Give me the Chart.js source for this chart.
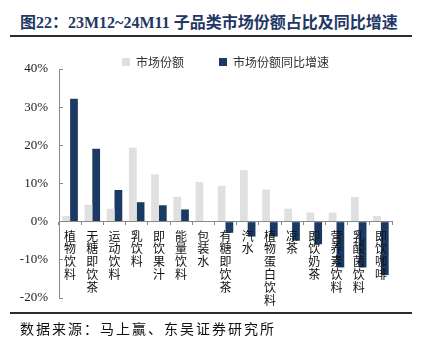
<!DOCTYPE html>
<html>
<head>
<meta charset="utf-8">
<script src="https://cdn.jsdelivr.net/npm/chart.js@4.4.1/dist/chart.umd.min.js"></script>
<style>
  html, body { margin: 0; padding: 0; background: #fff; }
  body { width: 422px; height: 354px; overflow: hidden; position: relative; }
  #title { position: absolute; left: 20px; top: 9px; font: bold 16px "Liberation Serif", "Noto Sans CJK SC"; color: #1f3864; white-space: nowrap; }
  #rule1 { position: absolute; left: 10px; top: 35px; width: 402px; height: 2px; background: #2b2b2b; }
  #rule2 { position: absolute; left: 10px; top: 312px; width: 402px; height: 2px; background: #2b2b2b; }
  #source { position: absolute; left: 20px; top: 318px; font: 14px "Noto Sans CJK SC"; letter-spacing: 2px; color: #111; white-space: nowrap; }
  #wrap { position: absolute; left: 0; top: 0; width: 422px; height: 354px; }
</style>
</head>
<body>
<div id="title">图22：23M12~24M11 子品类市场份额占比及同比增速</div>
<div id="rule1"></div>
<div id="wrap"><canvas id="chart"></canvas></div>
<div id="rule2"></div>
<div id="source">数据来源：马上赢、东吴证券研究所</div>
<script>
const categories = ["植物饮料", "无糖即饮茶", "运动饮料", "乳饮料", "即饮果汁", "能量饮料", "包装水",
  "有糖即饮茶", "汽水", "植物蛋白饮料", "凉茶", "即饮奶茶", "营养素饮料", "乳酸菌饮料", "即饮咖啡"];
const shareValues = [1.5, 4.4, 3.4, 19.4, 12.4, 6.5, 10.4, 9.4, 13.5, 8.4, 3.4, 2.4, 2.4, 6.5, 1.5];
const growthValues = [32.2, 19.1, 8.3, 5.1, 4.3, 3.2, 0, -2.9, -3.9, -3.9, -5.0, -5.9, -12.0, -12.0, -14.0];
const yTicks = [-20, -10, 0, 10, 20, 30, 40];

// legend sits close to the plot, so trim its reserved height
const legendHeight = {
  id: "legendHeight",
  beforeInit(chart) {
    const fit = chart.legend.fit;
    chart.legend.fit = function () {
      fit.call(this);
      this.height = 48;
    };
  }
};

const ctx = document.getElementById("chart").getContext("2d");
const chart = new Chart(ctx, {
  type: "bar",
  data: {
    labels: categories.map(c => c.split("")),
    datasets: [
      {
        label: "市场份额",
        data: shareValues,
        backgroundColor: "#e0e0e0",
        categoryPercentage: 0.7,
        barPercentage: 1.0,
      },
      {
        label: "市场份额同比增速",
        data: growthValues,
        backgroundColor: "#1a3a63",
        categoryPercentage: 0.7,
        barPercentage: 1.0,
      },
    ],
  },
  options: {
    responsive: true,
    maintainAspectRatio: false,
    animation: false,
    layout: { padding: { top: 21, left: 20, right: 30, bottom: 56 } },
    plugins: {
      legend: {
        fullSize: false,
        labels: {
          boxWidth: 8,
          boxHeight: 8,
          padding: 35,
          color: "#333",
          font: { family: "Noto Sans CJK SC", size: 12 },
        },
      },
      tooltip: { enabled: false },
    },
    scales: {
      x: {
        position: { y: 0 },
        afterFit: s => { s.height = 0; },
        grid: { drawOnChartArea: false, tickLength: 3, color: "#888" },
        border: { color: "#888", z: 1 },
        ticks: {
          z: 1,
          autoSkip: false,
          maxRotation: 0,
          minRotation: 0,
          padding: 5,
          color: "#111",
          font: { family: "Noto Sans CJK SC", size: 12, lineHeight: 1.07 },
        },
      },
      y: {
        min: -20,
        max: 40,
        afterFit: s => { s.width = 39; },
        afterBuildTicks: s => { s.ticks = yTicks.map(v => ({ value: v })); },
        grid: { drawOnChartArea: false, tickLength: -4, color: "#888" },
        border: { color: "#888" },
        ticks: {
          padding: 15,
          color: "#222",
          font: { family: "Liberation Serif", size: 13 },
          callback: v => v + "%",
        },
      },
    },
  },
  plugins: [legendHeight],
});
</script>
</body>
</html>
